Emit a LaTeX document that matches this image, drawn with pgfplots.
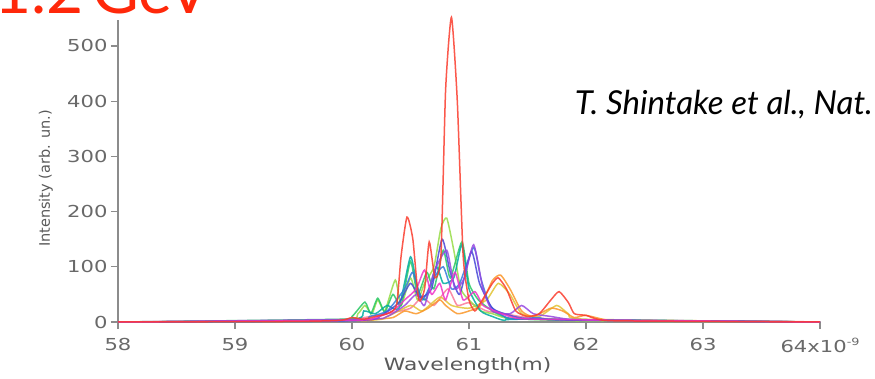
\documentclass[border=0pt]{standalone}
\usepackage{pgfplots}
\pgfplotsset{compat=1.18}
\usepackage{fontspec}
\setmainfont{Lato}
\newfontfamily\wfont[FakeStretch=1.28]{DejaVu Sans}
\newfontfamily\dvfont{DejaVu Sans}
\definecolor{cRed}{RGB}{250,60,45}
\definecolor{cOrange}{RGB}{250,150,40}
\definecolor{cGold}{RGB}{225,195,50}
\definecolor{cLGreen}{RGB}{150,220,70}
\definecolor{cGreen}{RGB}{40,200,100}
\definecolor{cTeal}{RGB}{0,170,160}
\definecolor{cBlue}{RGB}{50,120,220}
\definecolor{cNavy}{RGB}{70,70,215}
\definecolor{cPurple}{RGB}{150,70,225}
\definecolor{cMagenta}{RGB}{240,50,200}
\definecolor{cPink}{RGB}{250,120,150}
\definecolor{axgray}{RGB}{140,140,140}
\definecolor{txtgray}{RGB}{105,105,105}
\definecolor{titlered}{RGB}{255,40,10}
\begin{document}
\begin{tikzpicture}[x=1pt,y=1pt]
\useasboundingbox (0,0) rectangle (875,379);
\node[anchor=base east, text=titlered, inner sep=0pt, font=\fontsize{64}{64}\selectfont] at (84,365) {1.2};
\node[anchor=base east, text=titlered, inner sep=0pt, font=\fontsize{64}{64}\selectfont] at (211,365) {GeV};
\node[anchor=base east, inner sep=0pt, font=\fontsize{33}{33}\selectfont\itshape] at (873,264) {T. Shintake et al., Nat.};
\begin{axis}[
  at={(118pt,57pt)}, anchor=south west,
  scale only axis, width=702pt, height=302pt,
  xmin=58, xmax=64, ymin=0, ymax=547,
  clip=false,
  axis x line=bottom, axis y line=left,
  axis line style={-, axgray, line width=1.6pt},
  tick style={axgray, line width=1.2pt},
  tick align=outside, major tick length=7pt,
  xtick={58,59,60,61,62,63,64},
  xticklabels={58,59,60,61,62,63,{64x10\raisebox{0.7ex}{\fontsize{10}{10}\selectfont -9}}},
  ytick={0,100,200,300,400,500},
  /pgf/number format/assume math mode=true,
  ticklabel style={text=txtgray, font=\wfont\fontsize{16.5}{16.5}\selectfont},
  xticklabel style={yshift=-6pt},
  yticklabel style={xshift=0pt},
  xlabel={Wavelength(m)},
  xlabel style={text=txtgray!85!black, font=\wfont\fontsize{17}{17}\selectfont, at={(axis description cs:0.498,-0.118)}, anchor=north, inner sep=0pt},
  ylabel={Intensity (arb. un.)},
  ylabel style={text=txtgray!85!black, font=\dvfont\fontsize{14.5}{14.5}\selectfont, at={(axis description cs:-0.1026,0.475)}, anchor=center, inner sep=0pt},
  every axis plot/.append style={line width=1.5pt, smooth, tension=0.35, opacity=0.85},
]
% pink
\addplot[cPink] coordinates {(58,0) (59.3,2) (59.7,3) (60.0,5) (60.3,15) (60.5,25) (60.6,45) (60.7,30) (60.82,60) (60.9,30) (61.0,35) (61.15,20) (61.3,15) (61.5,8) (61.8,5) (62.3,2) (63.3,2) (64,0)};
% gold
\addplot[cGold] coordinates {(58,0) (60.1,3) (60.3,10) (60.5,30) (60.6,20) (60.75,45) (60.85,30) (61.0,25) (61.15,40) (61.25,70) (61.35,50) (61.45,15) (61.6,10) (61.75,30) (61.85,15) (62,5) (64,0)};
% orange
\addplot[cOrange] coordinates {(58,0) (60.0,2) (60.2,5) (60.35,8) (60.45,20) (60.55,15) (60.65,25) (60.75,40) (60.8,30) (60.9,15) (61.0,20) (61.1,30) (61.2,75) (61.27,85) (61.35,60) (61.45,20) (61.55,10) (61.7,25) (61.8,20) (61.9,8) (62.0,12) (62.2,3) (62.6,2) (64,0)};
% light green
\addplot[cLGreen] coordinates {(58,0) (59.9,3) (60.05,15) (60.11,30) (60.17,15) (60.22,40) (60.28,20) (60.37,76) (60.42,30) (60.5,80) (60.56,40) (60.62,70) (60.7,100) (60.76,170) (60.81,188) (60.87,130) (60.93,60) (61.0,40) (61.1,20) (61.2,15) (61.3,8) (61.5,5) (62,2) (64,0)};
% green
\addplot[cGreen] coordinates {(58,0) (59.9,5) (60.0,10) (60.11,36) (60.16,15) (60.22,43) (60.28,18) (60.35,50) (60.42,30) (60.5,110) (60.56,50) (60.64,90) (60.7,60) (60.78,130) (60.84,80) (60.94,145) (61.0,70) (61.08,40) (61.2,20) (61.3,10) (61.5,5) (64,0)};
% teal
\addplot[cTeal] coordinates {(58,0) (59.95,3) (60.1,20) (60.2,15) (60.3,30) (60.4,25) (60.5,118) (60.56,60) (60.63,40) (60.72,100) (60.78,70) (60.87,80) (60.94,140) (61.0,60) (61.1,20) (61.2,10) (61.3,3) (61.5,5) (64,0)};
% blue
\addplot[cBlue] coordinates {(58,0) (60,2) (60.15,10) (60.3,20) (60.45,60) (60.52,90) (60.6,40) (60.7,80) (60.78,100) (60.85,60) (60.92,70) (61.04,135) (61.1,80) (61.18,30) (61.3,10) (61.4,5) (61.6,8) (61.8,4) (64,0)};
% navy
\addplot[cNavy] coordinates {(58,0) (60.05,3) (60.25,12) (60.4,35) (60.5,70) (60.58,45) (60.68,60) (60.77,150) (60.84,90) (60.92,50) (61.02,128) (61.09,70) (61.2,25) (61.35,12) (61.5,6) (62,3) (64,0)};
% purple
\addplot[cPurple] coordinates {(58,0) (60.1,5) (60.3,10) (60.45,30) (60.55,50) (60.62,30) (60.7,90) (60.81,130) (60.88,60) (60.96,80) (61.04,140) (61.12,60) (61.2,20) (61.35,15) (61.45,30) (61.55,15) (61.7,10) (61.85,5) (62.1,3) (62.5,2) (64,0)};
% magenta
\addplot[cMagenta] coordinates {(58,0) (60,3) (60.2,8) (60.35,20) (60.45,40) (60.55,60) (60.62,94) (60.68,50) (60.75,70) (60.8,40) (60.88,90) (60.95,40) (61.05,55) (61.12,30) (61.22,20) (61.35,10) (61.6,5) (64,0)};
% red
\addplot[cRed] coordinates {(58,0) (59.5,1) (59.9,3) (60.0,8) (60.1,5) (60.2,10) (60.3,15) (60.38,30) (60.42,120) (60.47,190) (60.52,150) (60.57,40) (60.62,60) (60.66,145) (60.71,80) (60.76,120) (60.80,420) (60.85,552) (60.90,400) (60.95,120) (61.0,40) (61.05,20) (61.1,35) (61.2,70) (61.25,80) (61.32,60) (61.4,20) (61.5,10) (61.6,15) (61.7,40) (61.77,55) (61.85,35) (61.9,15) (62.0,12) (62.1,5) (62.3,2) (64,0)};
\end{axis}
\end{tikzpicture}
\end{document}
